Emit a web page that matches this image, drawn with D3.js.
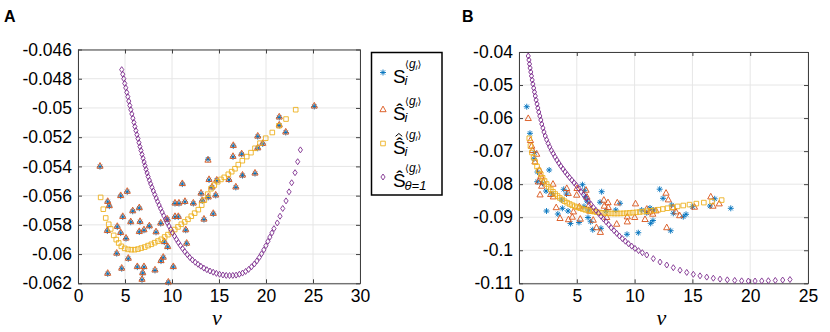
<!DOCTYPE html>
<html>
<head>
<meta charset="utf-8">
<script src="https://cdn.jsdelivr.net/npm/d3@7"></script>
<style>
  body { margin: 0; background: #fff; }
  text { font-family: "Liberation Sans", Arial, Helvetica, "DejaVu Sans", sans-serif; }
</style>
</head>
<body>
<svg id="chart" width="830" height="332"></svg>
<script>
// ---- panel A data: [nu, value] ----
const aStar = [[2.34,-0.05402],[3.16,-0.05643],[3.33,-0.05672],[3.12,-0.05842],[3.16,-0.06135],[5.24,-0.05574],[4.54,-0.05603],[4.76,-0.05746],[4.18,-0.05814],[4.54,-0.05856],[4.12,-0.05997],[5.35,-0.06032],[4.65,-0.06100],[5.82,-0.05707],[5.61,-0.05782],[5.11,-0.05894],[6.52,-0.05686],[6.52,-0.05849],[6.60,-0.05780],[6.31,-0.06089],[7.02,-0.06089],[6.88,-0.06131],[6.81,-0.06176],[7.02,-0.05837],[7.59,-0.05810],[8.30,-0.05851],[8.19,-0.06112],[8.80,-0.05791],[8.83,-0.06048],[9.07,-0.06025],[9.50,-0.05764],[9.18,-0.05918],[9.54,-0.05952],[9.61,-0.06195],[10.14,-0.06089],[10.32,-0.05654],[10.74,-0.05654],[10.32,-0.05746],[10.67,-0.05746],[11.10,-0.05521],[11.38,-0.05643],[12.27,-0.05654],[11.46,-0.05837],[11.56,-0.05929],[13.40,-0.05764],[13.83,-0.05351],[13.94,-0.05493],[14.76,-0.05497],[14.26,-0.05544],[13.09,-0.05586],[14.39,-0.05725],[16.06,-0.05493],[16.49,-0.05335],[16.79,-0.05544],[16.52,-0.05260],[17.41,-0.05317],[17.50,-0.05463],[18.83,-0.05449],[19.12,-0.05196],[19.65,-0.05246],[19.12,-0.05276],[21.41,-0.05065],[21.41,-0.05120],[22.10,-0.05168],[25.14,-0.04990],[13.86,-0.05612],[14.65,-0.05599],[13.22,-0.05636]];
const aHat = [[2.34,-0.05397],[3.16,-0.05638],[3.33,-0.05667],[3.12,-0.05837],[3.16,-0.06130],[5.24,-0.05569],[4.54,-0.05598],[4.76,-0.05741],[4.18,-0.05809],[4.54,-0.05851],[4.12,-0.05992],[5.35,-0.06027],[4.65,-0.06095],[5.82,-0.05702],[5.61,-0.05777],[5.11,-0.05889],[6.52,-0.05681],[6.52,-0.05844],[6.60,-0.05775],[6.31,-0.06084],[7.02,-0.06084],[6.88,-0.06126],[6.81,-0.06171],[7.02,-0.05832],[7.59,-0.05805],[8.30,-0.05846],[8.19,-0.06107],[8.80,-0.05786],[8.83,-0.06043],[9.07,-0.06020],[9.50,-0.05759],[9.18,-0.05913],[9.54,-0.05947],[9.61,-0.06190],[10.14,-0.06084],[10.32,-0.05649],[10.74,-0.05649],[10.32,-0.05741],[10.67,-0.05741],[11.10,-0.05516],[11.38,-0.05638],[12.27,-0.05649],[11.46,-0.05832],[11.56,-0.05924],[13.40,-0.05759],[13.83,-0.05356],[13.94,-0.05488],[14.76,-0.05492],[14.26,-0.05539],[13.09,-0.05581],[14.39,-0.05720],[16.06,-0.05488],[16.49,-0.05330],[16.79,-0.05539],[16.52,-0.05255],[17.41,-0.05312],[17.50,-0.05458],[18.83,-0.05444],[19.12,-0.05191],[19.65,-0.05241],[19.12,-0.05271],[21.41,-0.05060],[21.41,-0.05115],[22.10,-0.05163],[25.14,-0.04985],[13.86,-0.05607],[14.65,-0.05594],[13.22,-0.05631]];
const aHat2 = [[2.41,-0.05612],[2.69,-0.05693],[2.95,-0.05753],[3.27,-0.05796],[3.48,-0.05828],[3.80,-0.05872],[4.07,-0.05901],[4.33,-0.05924],[4.61,-0.05947],[4.97,-0.05961],[5.32,-0.05968],[5.67,-0.05970],[6.03,-0.05970],[6.38,-0.05966],[6.73,-0.05959],[7.10,-0.05952],[7.45,-0.05942],[7.80,-0.05933],[8.16,-0.05922],[8.51,-0.05911],[8.86,-0.05899],[9.22,-0.05883],[9.57,-0.05867],[9.93,-0.05851],[10.29,-0.05832],[10.64,-0.05814],[10.99,-0.05796],[11.35,-0.05780],[11.70,-0.05762],[12.05,-0.05741],[12.41,-0.05720],[12.80,-0.05696],[13.16,-0.05665],[13.44,-0.05631],[13.80,-0.05590],[14.15,-0.05553],[14.50,-0.05528],[14.86,-0.05505],[15.21,-0.05489],[15.56,-0.05475],[15.99,-0.05454],[16.35,-0.05436],[16.70,-0.05416],[17.05,-0.05388],[17.48,-0.05361],[17.95,-0.05333],[18.40,-0.05306],[18.83,-0.05276],[19.36,-0.05241],[19.97,-0.05207],[20.67,-0.05168],[21.38,-0.05122],[22.13,-0.05076],[23.16,-0.05012]];
const aTheta = [[4.65,-0.04738],[4.76,-0.04769],[4.87,-0.04800],[4.97,-0.04832],[5.08,-0.04862],[5.19,-0.04893],[5.30,-0.04923],[5.40,-0.04953],[5.51,-0.04983],[5.62,-0.05012],[5.73,-0.05041],[5.84,-0.05070],[5.95,-0.05099],[6.05,-0.05127],[6.16,-0.05155],[6.27,-0.05183],[6.38,-0.05210],[6.49,-0.05238],[6.59,-0.05265],[6.70,-0.05291],[6.81,-0.05318],[6.92,-0.05344],[7.03,-0.05370],[7.13,-0.05395],[7.24,-0.05420],[7.35,-0.05445],[7.46,-0.05470],[7.60,-0.05495],[7.73,-0.05519],[7.87,-0.05543],[8.02,-0.05568],[8.17,-0.05593],[8.32,-0.05617],[8.47,-0.05641],[8.63,-0.05665],[8.79,-0.05689],[8.95,-0.05713],[9.13,-0.05738],[9.31,-0.05762],[9.49,-0.05785],[9.68,-0.05808],[9.87,-0.05832],[10.06,-0.05855],[10.27,-0.05877],[10.47,-0.05899],[10.68,-0.05921],[10.90,-0.05942],[11.13,-0.05963],[11.36,-0.05983],[11.63,-0.06004],[11.89,-0.06023],[12.17,-0.06040],[12.47,-0.06056],[12.77,-0.06070],[13.07,-0.06083],[13.39,-0.06096],[13.71,-0.06107],[14.04,-0.06116],[14.38,-0.06124],[14.72,-0.06132],[15.06,-0.06138],[15.42,-0.06143],[15.77,-0.06146],[16.12,-0.06147],[16.47,-0.06146],[16.82,-0.06144],[17.16,-0.06138],[17.50,-0.06130],[17.83,-0.06119],[18.15,-0.06105],[18.46,-0.06087],[18.76,-0.06068],[19.03,-0.06047],[19.29,-0.06023],[19.53,-0.05998],[19.77,-0.05971],[19.99,-0.05943],[20.20,-0.05913],[20.41,-0.05884],[20.63,-0.05855],[20.85,-0.05826],[21.20,-0.05787],[21.49,-0.05741],[21.78,-0.05688],[22.13,-0.05636],[22.45,-0.05574],[22.73,-0.05512],[23.09,-0.05443],[23.37,-0.05368],[23.66,-0.05287]];

// ---- panel B data ----
const bStar = [[0.67,-0.05656],[0.95,-0.06461],[1.34,-0.07048],[1.30,-0.07232],[1.60,-0.07632],[2.61,-0.07571],[2.03,-0.07974],[1.58,-0.07926],[2.34,-0.08207],[2.85,-0.08292],[2.38,-0.08812],[3.36,-0.08903],[3.87,-0.08156],[4.11,-0.08298],[3.69,-0.08479],[3.75,-0.08731],[4.24,-0.08812],[4.45,-0.09191],[5.19,-0.09160],[5.49,-0.08016],[5.67,-0.08186],[5.75,-0.08380],[5.88,-0.08510],[5.62,-0.08676],[6.01,-0.08782],[5.97,-0.09009],[6.20,-0.09136],[6.38,-0.09378],[7.15,-0.08228],[7.01,-0.08546],[7.53,-0.08812],[7.09,-0.09336],[8.37,-0.08782],[9.34,-0.09517],[10.32,-0.09469],[10.61,-0.08782],[11.33,-0.08721],[11.62,-0.08782],[11.39,-0.09185],[11.59,-0.09100],[11.05,-0.08864],[12.17,-0.08152],[12.46,-0.08428],[13.21,-0.08631],[13.35,-0.08882],[13.12,-0.09409],[14.21,-0.08985],[14.45,-0.08912],[15.01,-0.08682],[16.52,-0.08661],[16.93,-0.08443],[18.32,-0.08731],[8.74,-0.08579]];
const bHat = [[0.80,-0.06007],[0.99,-0.06672],[1.10,-0.06845],[1.17,-0.06975],[1.38,-0.07320],[1.53,-0.07087],[1.77,-0.07571],[1.90,-0.07753],[2.10,-0.07926],[1.67,-0.07926],[1.96,-0.08056],[1.82,-0.08319],[2.94,-0.07995],[2.74,-0.08307],[2.97,-0.08380],[3.22,-0.08706],[4.13,-0.08125],[4.26,-0.08277],[3.55,-0.09033],[4.28,-0.09070],[4.61,-0.08994],[4.71,-0.08834],[5.02,-0.08125],[4.99,-0.08328],[5.22,-0.08682],[5.30,-0.09054],[5.80,-0.08177],[5.88,-0.08389],[6.06,-0.08631],[6.14,-0.08812],[6.42,-0.09085],[6.70,-0.09312],[7.04,-0.09454],[7.34,-0.08479],[7.70,-0.08555],[7.38,-0.08661],[7.72,-0.08700],[7.59,-0.09003],[8.45,-0.09206],[8.50,-0.08561],[9.37,-0.08985],[9.37,-0.09136],[10.08,-0.08591],[10.01,-0.09003],[10.90,-0.09064],[11.05,-0.08752],[11.29,-0.08834],[11.57,-0.08903],[11.85,-0.08803],[12.72,-0.08268],[12.92,-0.08470],[13.35,-0.08712],[13.58,-0.08834],[13.90,-0.08949],[12.78,-0.09312],[15.18,-0.08691],[16.59,-0.08380],[16.78,-0.08661],[17.32,-0.08591]];
const bHat2 = [[0.89,-0.06612],[0.99,-0.06845],[1.12,-0.07042],[1.26,-0.07193],[1.40,-0.07329],[1.56,-0.07466],[1.71,-0.07587],[1.88,-0.07702],[2.04,-0.07807],[2.21,-0.07904],[2.39,-0.07995],[2.57,-0.08080],[2.75,-0.08159],[2.94,-0.08231],[3.13,-0.08298],[3.33,-0.08358],[3.53,-0.08416],[3.74,-0.08467],[3.94,-0.08516],[4.16,-0.08561],[4.38,-0.08600],[4.60,-0.08637],[4.83,-0.08670],[5.05,-0.08700],[5.29,-0.08728],[5.52,-0.08752],[5.75,-0.08776],[5.99,-0.08797],[6.24,-0.08815],[6.48,-0.08830],[6.73,-0.08846],[6.98,-0.08858],[7.23,-0.08867],[7.48,-0.08876],[7.74,-0.08882],[8.00,-0.08885],[8.26,-0.08888],[8.52,-0.08888],[8.78,-0.08885],[9.05,-0.08882],[9.32,-0.08876],[9.58,-0.08870],[9.86,-0.08861],[10.15,-0.08852],[10.44,-0.08843],[10.74,-0.08830],[11.06,-0.08818],[11.38,-0.08806],[11.71,-0.08791],[12.07,-0.08773],[12.44,-0.08752],[12.84,-0.08728],[13.26,-0.08700],[13.72,-0.08673],[14.21,-0.08646],[14.75,-0.08619],[15.34,-0.08588],[15.99,-0.08558],[16.70,-0.08525],[17.53,-0.08482]];
const bTheta = [[0.80,-0.04121],[0.86,-0.04242],[0.91,-0.04363],[0.96,-0.04484],[1.02,-0.04605],[1.08,-0.04726],[1.14,-0.04847],[1.20,-0.04969],[1.27,-0.05090],[1.34,-0.05211],[1.41,-0.05332],[1.48,-0.05453],[1.56,-0.05574],[1.63,-0.05695],[1.71,-0.05816],[1.80,-0.05937],[1.89,-0.06058],[1.97,-0.06179],[2.07,-0.06300],[2.16,-0.06421],[2.27,-0.06542],[2.39,-0.06657],[2.52,-0.06766],[2.66,-0.06872],[2.80,-0.06975],[2.96,-0.07075],[3.11,-0.07172],[3.28,-0.07269],[3.45,-0.07363],[3.62,-0.07453],[3.81,-0.07541],[3.99,-0.07629],[4.18,-0.07714],[4.37,-0.07795],[4.57,-0.07877],[4.77,-0.07959],[4.97,-0.08037],[5.17,-0.08134],[5.38,-0.08231],[5.59,-0.08328],[5.80,-0.08422],[6.01,-0.08516],[6.23,-0.08610],[6.44,-0.08703],[6.66,-0.08794],[6.88,-0.08882],[7.09,-0.08970],[7.31,-0.09054],[7.53,-0.09139],[7.76,-0.09224],[7.98,-0.09321],[8.22,-0.09406],[8.45,-0.09487],[8.69,-0.09569],[8.94,-0.09648],[9.20,-0.09726],[9.47,-0.09802],[9.75,-0.09875],[10.03,-0.09944],[10.34,-0.10011],[10.67,-0.10074],[11.05,-0.10144],[11.62,-0.10253],[12.20,-0.10356],[12.78,-0.10447],[13.35,-0.10528],[13.93,-0.10604],[14.51,-0.10671],[15.08,-0.10728],[15.66,-0.10774],[16.24,-0.10813],[16.81,-0.10846],[17.39,-0.10873],[18.02,-0.10895],[18.66,-0.10913],[19.26,-0.10925],[19.84,-0.10931],[20.42,-0.10931],[21.00,-0.10928],[21.57,-0.10922],[22.17,-0.10913],[22.81,-0.10901],[23.44,-0.10886]];

// ---- ticks ----
const aXTicks = [0, 5, 10, 15, 20, 25, 30];
const aYTicks = [-0.046, -0.048, -0.05, -0.052, -0.054, -0.056, -0.058, -0.06, -0.062];
const aYLabels = ["-0.046", "-0.048", "-0.05", "-0.052", "-0.054", "-0.056", "-0.058", "-0.06", "-0.062"];
const bXTicks = [0, 5, 10, 15, 20, 25];
const bYTicks = [-0.04, -0.05, -0.06, -0.07, -0.08, -0.09, -0.1, -0.11];
const bYLabels = ["-0.04", "-0.05", "-0.06", "-0.07", "-0.08", "-0.09", "-0.1", "-0.11"];

const colors = { star: "#0072BD", hat: "#D95319", hat2: "#EDB120", theta: "#7E2F8E" };

// marker shapes, drawn with stroke only
const markers = {
  star: "M-3,0H3M0,-3V3M-2.1,-2.1L2.1,2.1M-2.1,2.1L2.1,-2.1",
  hat: "M0,-3.4L3.1,2.2L-3.1,2.2Z",
  hat2: "M-2.3,-2.3H2.3V2.3H-2.3Z",
  theta: "M0,-3L2.1,0L0,3L-2.1,0Z"
};

const svg = d3.select("#chart");
const axisColor = "#404040";

function drawPanel(p) {
  let x = d3.scaleLinear().domain(p.xDomain).range([p.left, p.right]);
  let y = d3.scaleLinear().domain(p.yDomain).range([p.bottom, p.top]);
  let g = svg.append("g");

  // grid
  g.append("g").selectAll("line").data(p.xTicks).join("line")
    .attr("x1", d => x(d)).attr("x2", d => x(d))
    .attr("y1", p.top).attr("y2", p.bottom)
    .attr("stroke", "#e6e6e6").attr("stroke-width", 1);
  g.append("g").selectAll("line").data(p.yTicks).join("line")
    .attr("x1", p.left).attr("x2", p.right)
    .attr("y1", d => y(d)).attr("y2", d => y(d))
    .attr("stroke", "#e6e6e6").attr("stroke-width", 1);

  // axes, ticks inside like the original
  let styleAxis = sel => {
    sel.select(".domain").attr("stroke", axisColor).attr("stroke-width", 1);
    sel.selectAll(".tick line").attr("stroke", axisColor);
    sel.selectAll(".tick text").attr("fill", "#000").style("font-size", "17.5px")
      .style("font-family", "'Liberation Sans', Arial, sans-serif");
  };
  g.append("g").attr("transform", `translate(0,${p.bottom})`)
    .call(d3.axisBottom(x).tickValues(p.xTicks).tickSizeInner(-4).tickSizeOuter(0).tickPadding(6).tickFormat(d3.format("d")))
    .call(styleAxis);
  g.append("g").attr("transform", `translate(0,${p.top})`)
    .call(d3.axisTop(x).tickValues(p.xTicks).tickSizeInner(-4).tickSizeOuter(0).tickFormat(""))
    .call(styleAxis);
  g.append("g").attr("transform", `translate(${p.left},0)`)
    .call(d3.axisLeft(y).tickValues(p.yTicks).tickSizeInner(-4).tickSizeOuter(0).tickPadding(6)
      .tickFormat((d, i) => p.yLabels[i]))
    .call(styleAxis);
  g.append("g").attr("transform", `translate(${p.right},0)`)
    .call(d3.axisRight(y).tickValues(p.yTicks).tickSizeInner(-4).tickSizeOuter(0).tickFormat(""))
    .call(styleAxis);

  // series, drawn in plot order
  p.series.forEach(s => {
    g.append("g").selectAll("path").data(s.data).join("path")
      .attr("transform", d => `translate(${x(d[0])},${y(d[1])})`)
      .attr("d", markers[s.key])
      .attr("fill", "none")
      .attr("stroke", colors[s.key])
      .attr("stroke-width", 0.9);
  });

  // x label (nu)
  g.append("text")
    .attr("x", (p.left + p.right) / 2 - 2).attr("y", 325)
    .attr("text-anchor", "middle")
    .style("font-family", "'Liberation Serif', 'Times New Roman', serif")
    .style("font-style", "italic").style("font-size", "22px")
    .text("ν");

  // panel letter
  g.append("text")
    .attr("x", p.letterX).attr("y", 22)
    .style("font-weight", "bold").style("font-size", "16px")
    .text(p.letter);
}

drawPanel({
  letter: "A", letterX: 4,
  left: 78, right: 360, top: 49.5, bottom: 283.3,
  xDomain: [0, 30], yDomain: [-0.062, -0.046],
  xTicks: aXTicks, yTicks: aYTicks, yLabels: aYLabels,
  series: [{ key: "star", data: aStar }, { key: "hat", data: aHat }, { key: "hat2", data: aHat2 }, { key: "theta", data: aTheta }]
});

drawPanel({
  letter: "B", letterX: 462,
  left: 519, right: 808, top: 52, bottom: 283.3,
  xDomain: [0, 25], yDomain: [-0.11, -0.04],
  xTicks: bXTicks, yTicks: bYTicks, yLabels: bYLabels,
  series: [{ key: "star", data: bStar }, { key: "hat", data: bHat }, { key: "hat2", data: bHat2 }, { key: "theta", data: bTheta }]
});

// ---- legend ----
const legendKeys = ["star", "hat", "hat2", "theta"];
const legendRows = [72.5, 109.5, 143.5, 177];
const leg = svg.append("g");
leg.append("rect")
  .attr("x", 371.5).attr("y", 52.5).attr("width", 70.5).attr("height", 142.5)
  .attr("fill", "#fff").attr("stroke", "#000").attr("stroke-width", 1.5);

legendKeys.forEach((k, i) => {
  let cy = legendRows[i];
  leg.append("path")
    .attr("transform", `translate(383,${cy})`)
    .attr("d", markers[k]).attr("fill", "none")
    .attr("stroke", colors[k]).attr("stroke-width", 0.9);

  // main letter with its superscript and subscript in one text element
  let t = leg.append("text").attr("x", 393).attr("y", cy + 10)
    .style("font-size", "19px");
  t.append("tspan").text(k === "star" ? "S" : "Ŝ");
  t.append("tspan").attr("x", 404.5).attr("y", cy + 12.5)
    .style("font-size", "13px").style("font-style", "italic")
    .text(k === "theta" ? "θ=1" : "i");
  // superscript <g_i>
  t.append("tspan").attr("x", 405).attr("y", cy - 5)
    .style("font-family", "'DejaVu Sans', sans-serif").style("font-size", "10px").text("⟨");
  t.append("tspan").style("font-style", "italic").style("font-size", "12px").text("g");
  t.append("tspan").style("font-style", "italic").style("font-size", "8px").attr("dy", 2).text("i");
  t.append("tspan").style("font-family", "'DejaVu Sans', sans-serif").style("font-size", "10px").attr("dy", -2).text("⟩");

  // second accent of the double hat, drawn as a small chevron
  if (k === "hat2") {
    leg.append("path")
      .attr("d", `M395.6,${cy - 7.2}L398.9,${cy - 10}L402.2,${cy - 7.2}`)
      .attr("fill", "none").attr("stroke", "#000").attr("stroke-width", 1);
  }
});
</script>
</body>
</html>
